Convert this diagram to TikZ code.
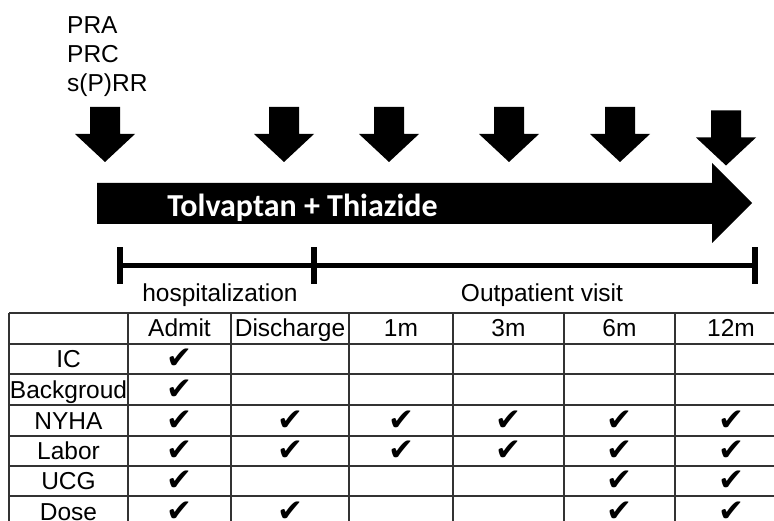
\documentclass[tikz,border=0pt]{standalone}
\usepackage{fontspec}
\setmainfont{Liberation Sans}
\newfontfamily\calibfont{Carlito}
\newfontfamily\symfont{DejaVu Sans}
\begin{document}
\begin{tikzpicture}[x=1pt,y=-1pt,
  lbl/.style={inner sep=0pt, anchor=base, font=\fontsize{24.5}{29}\selectfont},
  toplbl/.style={inner sep=0pt, anchor=base west, font=\fontsize{24.5}{29}\selectfont},
  chk/.style={inner sep=0pt, anchor=center, font=\symfont\fontsize{31}{34}\selectfont},
  gridline/.style={draw=black!80, line width=1.1pt},
  barline/.style={line width=5pt},
  tickline/.style={line width=6pt}]
\useasboundingbox (0,0) rectangle (774,521);
\clip (0,0) rectangle (774,521);

% top labels
\node[toplbl] (pra) at (67,34) {PRA};
\node[toplbl] (prc) at (67,63) {PRC};
\node[toplbl] (sprr) at (67,92) {s(P)RR};

% down arrows
\foreach \x/\dy in {105/0, 284/0, 389/0, 509/0, 620/0, 726/3.5}{
  \fill (\x-15,107+\dy) -- (\x+15,107+\dy) -- (\x+15,134+\dy) -- (\x+30,134+\dy)
     -- (\x,162+\dy) -- (\x-30,134+\dy) -- (\x-15,134+\dy) -- cycle;
}

% big arrow
\fill (97,183) -- (712,183) -- (712,163) -- (752,203) -- (712,243) -- (712,224) -- (97,224) -- cycle;
\node[inner sep=0pt, anchor=base, text=white, font=\calibfont\bfseries\fontsize{32}{36}\selectfont] (drug) at (302.5,217) {Tolvaptan + Thiazide};

% time bar
\coordinate (b0) at (120,266);
\coordinate (b1) at (314,266);
\coordinate (b2) at (755,266);
\draw[barline] (b0) -- (b2);
\draw[tickline] ([yshift=-18pt]b0) -- ([yshift=19pt]b0);
\draw[tickline] ([yshift=-18pt]b1) -- ([yshift=19pt]b1);
\draw[tickline] ([yshift=-18pt]b2) -- ([yshift=19pt]b2);
\node[lbl] (hosp) at (220,302) {hospitalization};
\node[lbl] (outp) at (542,302) {Outpatient visit};

% table grid
\foreach \y in {313,344,374,405,436,466,496,527}{
  \draw[gridline] (9,\y) -- (790,\y);
}
\foreach \x in {9,128,231,349,453,564,675}{
  \draw[gridline] (\x,313) -- (\x,530);
}

% header
\foreach \n/\x/\t in {hA/179.5/Admit, hD/290/Discharge, h1/401/1m, h3/508.5/3m, h6/619.5/6m, h12/731/12m}{
  \node[lbl] (\n) at (\x,337) {\t};
}
% row labels
\foreach \n/\y/\t in {rIC/359/IC, rBG/389.5/Backgroud, rNY/420.5/NYHA, rLA/451/Labor, rUC/481/UCG, rDO/511.5/Dose}{
  \node[lbl] (\n) at (68.5,\y+8.5) {\t};
}
% checks
\foreach \n/\x/\y in {
  c1/179.5/359,
  c2/179.5/389.5,
  c3/179.5/420.5, c4/290/420.5, c5/401/420.5, c6/508.5/420.5, c7/619.5/420.5, c8/731/420.5,
  c9/179.5/451, c10/290/451, c11/401/451, c12/508.5/451, c13/619.5/451, c14/731/451,
  c15/179.5/481, c16/619.5/481, c17/731/481,
  c18/179.5/511.5, c19/290/511.5, c20/619.5/511.5, c21/731/511.5}{
  \node[chk] (\n) at (\x,\y) {✔};
}
\end{tikzpicture}
\end{document}
